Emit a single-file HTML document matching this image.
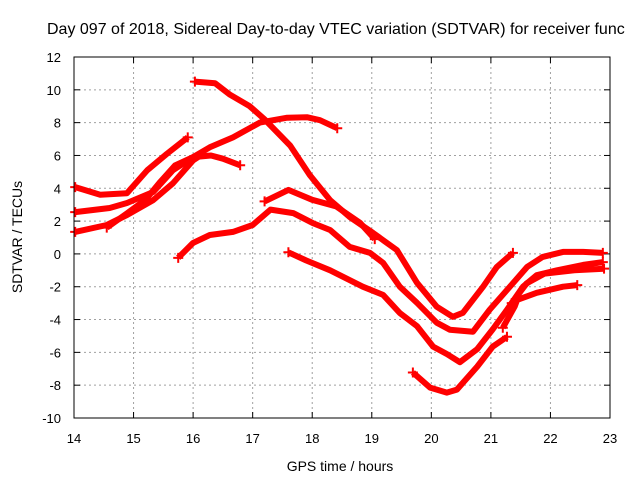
<!DOCTYPE html>
<html><head><meta charset="utf-8"><style>
html,body{margin:0;padding:0;background:#fff;overflow:hidden;}
svg{display:block;font-family:"Liberation Sans",sans-serif;}
</style></head><body>
<svg id="chart" width="640" height="480" viewBox="0 0 640 480">
<rect width="640" height="480" fill="#fff"/>
<text x="47" y="34" font-size="16" fill="#000">Day 097 of 2018, Sidereal Day-to-day VTEC variation (SDTVAR) for receiver func</text>
<g id="grid"></g>
<g id="ticks"></g>
<g id="series"></g>
<rect x="74" y="57" width="536" height="361" fill="none" stroke="#000" stroke-width="1"/>
<text x="340" y="471" font-size="14" text-anchor="middle">GPS time / hours</text>
<text transform="translate(22,237) rotate(-90)" font-size="14" text-anchor="middle">SDTVAR / TECUs</text>
</svg>
<script>
const xTicks=[14,15,16,17,18,19,20,21,22,23];
const yTicks=[12,10,8,6,4,2,0,-2,-4,-6,-8,-10];
const traceA_x=[16.03,16.37,16.62,16.95,17.2,17.63,17.96,18.3,18.63,19.02,19.42,19.76,20.09,20.36,20.53,20.87,21.1,21.37];
const traceA_y=[10.5,10.4,9.7,9.0,8.2,6.6,4.8,3.28,2.25,1.28,0.24,-1.76,-3.22,-3.83,-3.59,-2.0,-0.8,0.06];
const traceB_x=[15.75,16.0,16.28,16.67,17.0,17.3,17.68,18.01,18.3,18.63,18.97,19.19,19.47,19.76,20.09,20.31,20.7,20.98,21.32,21.61,21.87,22.21,22.55,22.88];
const traceB_y=[-0.24,0.67,1.15,1.34,1.76,2.7,2.49,1.88,1.46,0.43,0.06,-0.55,-2.0,-2.98,-4.19,-4.62,-4.74,-3.4,-2.0,-0.79,-0.18,0.12,0.12,0.06];
const traceC_x=[17.2,17.6,18.0,18.4,18.8,19.05];
const traceC_y=[3.2,3.9,3.3,2.9,1.9,0.9];
const traceD_x=[17.6,17.9,18.3,18.85,19.19,19.47,19.76,20.03,20.26,20.48,20.77,21.03,21.27,21.54,21.77,22.11,22.55,22.88];
const traceD_y=[0.1,-0.4,-1.0,-2.0,-2.5,-3.6,-4.4,-5.65,-6.1,-6.6,-5.8,-4.6,-3.4,-2.0,-1.3,-1.0,-0.67,-0.5];
const traceE_x=[19.69,19.98,20.26,20.43,20.77,21.03,21.27];
const traceE_y=[-7.23,-8.15,-8.45,-8.27,-6.87,-5.65,-5.05];
const traceF_x=[21.2,21.4,21.44,21.77,22.21,22.45];
const traceF_y=[-4.5,-3.2,-2.8,-2.37,-2.0,-1.9];
const traceG_x=[21.35,21.6,21.9,22.4,22.9];
const traceG_y=[-3.0,-1.8,-1.2,-1.0,-0.9];
const traceH_x=[14.02,14.44,14.89,15.23,15.56,15.91];
const traceH_y=[4.07,3.6,3.7,5.1,6.1,7.1];
const traceI_x=[14.02,14.6,14.89,15.33,15.66,16.0,16.28,16.67,17.12,17.58,17.91,18.13,18.42];
const traceI_y=[2.55,2.8,3.1,3.77,5.1,5.9,6.5,7.1,8.0,8.3,8.33,8.15,7.66];
const traceJ_x=[14.02,14.55,14.89,15.33,15.66,16.0,16.17];
const traceJ_y=[1.34,1.76,2.37,3.28,4.3,5.7,6.1];
const traceK_x=[14.55,14.9,15.2,15.45,15.7,16.0,16.3,16.5,16.79];
const traceK_y=[1.6,2.5,3.3,4.4,5.4,5.9,6.0,5.8,5.4];

const X0=74,X1=610,Y0=418,Y1=57;
function sx(v){return X0+(v-14)/(23-14)*(X1-X0);}
function sy(v){return Y0-(v+10)/(12+10)*(Y0-Y1);}
const NS="http://www.w3.org/2000/svg";
function mk(tag,attrs,parent){const e=document.createElementNS(NS,tag);for(const k in attrs)e.setAttribute(k,attrs[k]);parent.appendChild(e);return e;}
const grid=document.getElementById('grid'),ticks=document.getElementById('ticks'),series=document.getElementById('series');
xTicks.forEach(t=>{
  const x=sx(t);
  if(t>14&&t<23){const g=mk('line',{x1:x,x2:x,y1:Y1,y2:Y0,stroke:'#a0a0a0','stroke-dasharray':'2,3'},grid);
  
  }
  mk('line',{x1:x,x2:x,y1:Y0,y2:Y0-6,stroke:'#000'},ticks);
  mk('line',{x1:x,x2:x,y1:Y1,y2:Y1+6,stroke:'#000'},ticks);
  const l=mk('text',{x:x,y:443,'font-size':13,'text-anchor':'middle'},ticks);
  l.textContent=t;
  
  
});
yTicks.forEach(t=>{
  const y=sy(t);
  if(t<12&&t>-10){const g=mk('line',{x1:X0,x2:X1,y1:y,y2:y,stroke:'#a0a0a0','stroke-dasharray':'2,3'},grid);
  
  }
  mk('line',{x1:X0,x2:X0+6,y1:y,y2:y,stroke:'#000'},ticks);
  mk('line',{x1:X1,x2:X1-6,y1:y,y2:y,stroke:'#000'},ticks);
  const l=mk('text',{x:61,y:y+5,'font-size':13,'text-anchor':'end'},ticks);
  l.textContent=t;
  
  
});
const traces=[[traceA_x,traceA_y],[traceB_x,traceB_y],[traceC_x,traceC_y],[traceD_x,traceD_y],[traceE_x,traceE_y],[traceF_x,traceF_y],[traceG_x,traceG_y],[traceH_x,traceH_y],[traceI_x,traceI_y],[traceJ_x,traceJ_y],[traceK_x,traceK_y]];
traces.forEach((tr,i)=>{
  const pts=tr[0].map((x,j)=>sx(x).toFixed(1)+','+sy(tr[1][j]).toFixed(1)).join(' ');
  const p=mk('polyline',{points:pts,fill:'none',stroke:'#ff0000','stroke-width':6,'stroke-linejoin':'round','stroke-linecap':'butt'},series);
  
  
  [0,tr[0].length-1].forEach(j=>{
    const cx=sx(tr[0][j]),cy=sy(tr[1][j]);
    mk('path',{d:`M${cx-5},${cy}H${cx+5}M${cx},${cy-5}V${cy+5}`,stroke:'#ff0000','stroke-width':2},series);
  });
});
</script>
</body></html>
